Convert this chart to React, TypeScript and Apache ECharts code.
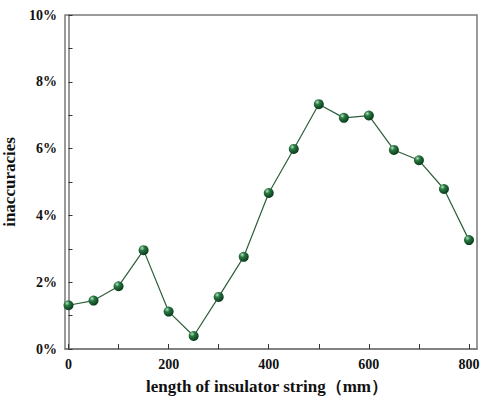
import React, { useEffect, useRef } from "react";
import * as echarts from "echarts";

const lengths = [0, 50, 100, 150, 200, 250, 300, 350, 400, 450, 500, 550, 600, 650, 700, 750, 800];
const inaccuracies = [1.31, 1.45, 1.88, 2.96, 1.12, 0.39, 1.56, 2.76, 4.67, 5.99, 7.33, 6.92, 6.99, 5.96, 5.65, 4.79, 3.26];
const xMajorTicks = [0, 200, 400, 600, 800];
const xMinorTicks = [0, 100, 200, 300, 400, 500, 600, 700, 800];

const FONT = "Liberation Serif";
const AXIS_COLOR = "#7a7a7a";

export default function App() {
  const ref = useRef<HTMLDivElement>(null);

  useEffect(() => {
    if (!ref.current) return;
    const chart = echarts.init(ref.current, null, { renderer: "svg" });
    const sphere = new echarts.graphic.RadialGradient(0.35, 0.3, 0.7, [
      { offset: 0, color: "#b9e3c2" },
      { offset: 0.35, color: "#2a7a43" },
      { offset: 1, color: "#0a3a1a" },
    ]);
    chart.setOption({
      animation: false,
      backgroundColor: "#ffffff",
      textStyle: { fontFamily: FONT },
      grid: {
        left: 65,
        top: 15,
        right: 6,
        bottom: 52,
        outerBoundsMode: "none",
        containLabel: false,
        show: true,
        borderColor: AXIS_COLOR,
        borderWidth: 1.5,
      },
      xAxis: {
        type: "value",
        min: -7,
        max: 816,
        name: "length of insulator string（mm）",
        nameLocation: "middle",
        nameGap: 29,
        nameTextStyle: { fontFamily: FONT, fontWeight: "bold", fontSize: 17, color: "#111", padding: [0, 8, 0, 0] },
        axisLine: { show: true, lineStyle: { color: AXIS_COLOR, width: 1.5 } },
        axisTick: {
          show: true,
          inside: true,
          length: 5,
          customValues: xMinorTicks,
          lineStyle: { color: "#333", width: 1 },
        },
        axisLabel: {
          customValues: xMajorTicks,
          fontFamily: FONT,
          fontWeight: "bold",
          fontSize: 14,
          color: "#111",
          margin: 8,
        },
        splitLine: { show: false },
      },
      yAxis: {
        type: "value",
        min: 0,
        max: 10,
        interval: 1,
        name: "inaccuracies",
        nameLocation: "middle",
        nameGap: 35,
        nameTextStyle: { fontFamily: FONT, fontWeight: "bold", fontSize: 17, color: "#111" },
        axisLine: { show: true, lineStyle: { color: AXIS_COLOR, width: 1.5 } },
        axisTick: { show: true, inside: true, length: 4, lineStyle: { color: "#333", width: 1 } },
        axisLabel: {
          fontFamily: FONT,
          fontWeight: "bold",
          fontSize: 14,
          color: "#111",
          margin: 8,
          formatter: (v: number) => (v % 2 === 0 ? `${v}%` : ""),
        },
        splitLine: { show: false },
      },
      series: [
        {
          type: "line",
          data: lengths.map((x, i) => [x, inaccuracies[i]]),
          symbol: "circle",
          symbolSize: 10,
          lineStyle: { color: "#2d5e3c", width: 1.2 },
          itemStyle: { color: sphere, borderWidth: 0 },
        },
      ],
    });
    return () => chart.dispose();
  }, []);

  return (
    <div
      ref={ref}
      style={{ position: "fixed", left: 0, top: 0, width: 483, height: 401 }}
    />
  );
}
